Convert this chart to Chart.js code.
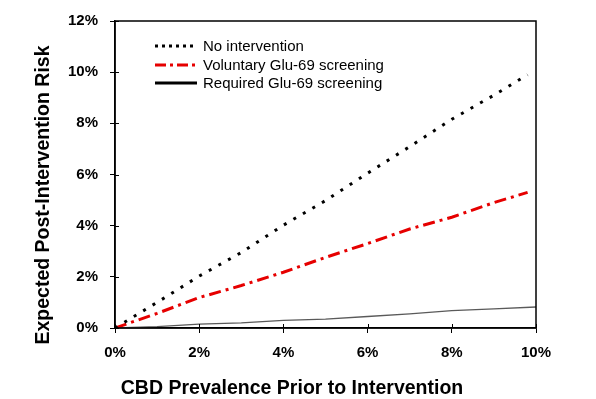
<!DOCTYPE html>
<html>
<head>
<meta charset="utf-8">
<script src="https://cdn.jsdelivr.net/npm/chart.js@4"></script>
<style>
  body { margin: 0; background: #fff; }
  #wrap { width: 596px; height: 399px; }
</style>
</head>
<body>
<div id="wrap"><canvas id="graphContainer"></canvas></div>
<script>
// prevalence (%) on x, expected risk (%) on y
const prevalence = [0, 1, 2, 3, 4, 5, 6, 7, 8, 9, 9.8];
const noIntervention = [0, 1.0, 2.03, 2.95, 4.02, 4.98, 6.05, 7.09, 8.16, 9.1, 9.9];
const voluntary = [0, 0.57, 1.19, 1.66, 2.18, 2.76, 3.3, 3.87, 4.33, 4.9, 5.3];
const prevalenceReq = [0, 1, 2, 3, 4, 5, 6, 7, 8, 9, 10];
const required = [0, 0.05, 0.15, 0.2, 0.3, 0.35, 0.45, 0.55, 0.68, 0.75, 0.82];

const seriesLabels = ["No intervention", "Voluntary Glu-69 screening", "Required Glu-69 screening"];
const xTitle = "CBD Prevalence Prior to Intervention";
const yTitle = "Expected Post-Intervention Risk";

function toPoints(xs, ys) {
  return xs.map((x, i) => ({ x: x, y: ys[i] }));
}

// frame, inner tick halves, legend and axis titles
const extras = {
  id: "extras",
  afterDraw(chart) {
    const ctx = chart.ctx;
    const a = chart.chartArea;
    ctx.save();
    ctx.strokeStyle = "#000";
    ctx.lineWidth = 1.5;
    ctx.strokeRect(a.left, a.top, a.right - a.left, a.bottom - a.top);

    ctx.lineWidth = 1;
    ctx.beginPath();
    chart.scales.x.ticks.forEach(t => {
      const px = Math.round(chart.scales.x.getPixelForValue(t.value)) + 0.5;
      ctx.moveTo(px, a.bottom);
      ctx.lineTo(px, a.bottom - 4);
    });
    chart.scales.y.ticks.forEach(t => {
      const py = Math.round(chart.scales.y.getPixelForValue(t.value)) + 0.5;
      ctx.moveTo(a.left, py);
      ctx.lineTo(a.left + 4, py);
    });
    ctx.stroke();

    // legend
    const legendDash = [[3, 4], [11, 4, 3, 4], []];
    const legendColor = ["#000", "rgb(230,0,0)", "#000"];
    const rows = [46, 65, 83];
    ctx.font = "15px 'Liberation Sans', Arial, sans-serif";
    ctx.textBaseline = "middle";
    ctx.fillStyle = "#000";
    chart.data.datasets.forEach((ds, i) => {
      ctx.beginPath();
      ctx.setLineDash(legendDash[i]);
      ctx.strokeStyle = legendColor[i];
      ctx.lineWidth = 3;
      ctx.moveTo(155, rows[i]);
      ctx.lineTo(197, rows[i]);
      ctx.stroke();
      ctx.fillText(ds.label, 203, rows[i] + 1);
    });
    ctx.setLineDash([]);

    // axis titles
    ctx.font = "bold 19.5px 'Liberation Sans', Arial, sans-serif";
    ctx.textAlign = "center";
    ctx.textBaseline = "alphabetic";
    ctx.fillText(xTitle, 292, 394);
    ctx.translate(49, 195);
    ctx.rotate(-Math.PI / 2);
    ctx.fillText(yTitle, 0, 0);
    ctx.restore();
  }
};

const tickFont = { family: "'Liberation Sans', Arial, sans-serif", size: 15, weight: "bold" };

new Chart(document.getElementById("graphContainer"), {
  type: "line",
  data: {
    datasets: [{
      label: seriesLabels[0],
      data: toPoints(prevalence, noIntervention),
      borderColor: "#000",
      borderWidth: 3,
      borderDash: [3, 8],
      pointRadius: 0,
      fill: false
    }, {
      label: seriesLabels[1],
      data: toPoints(prevalence, voluntary),
      borderColor: "rgb(230,0,0)",
      borderWidth: 3,
      borderDash: [12, 5, 3, 5],
      pointRadius: 0,
      fill: false
    }, {
      label: seriesLabels[2],
      data: toPoints(prevalenceReq, required),
      borderColor: "rgb(90,90,90)",
      borderWidth: 1.3,
      pointRadius: 0,
      fill: false
    }]
  },
  options: {
    responsive: true,
    maintainAspectRatio: false,
    animation: false,
    layout: { padding: { top: 15, right: 60, left: 0, bottom: 0 } },
    plugins: { legend: { display: false }, tooltip: { enabled: false } },
    scales: {
      x: {
        type: "linear",
        position: "bottom",
        min: 0,
        max: 10,
        afterFit: s => { s.height = 71; },
        ticks: { stepSize: 2, color: "#000", font: tickFont, padding: 11, maxRotation: 0, callback: v => v + "%" },
        grid: { drawOnChartArea: false, drawTicks: true, tickLength: 5, color: "#000" },
        border: { display: true, color: "#000", width: 1.5 }
      },
      y: {
        min: 0,
        max: 12,
        afterFit: s => { s.width = 115; },
        ticks: { stepSize: 2, color: "#000", font: tickFont, padding: 12, callback: v => v + "%" },
        grid: { drawOnChartArea: false, drawTicks: true, tickLength: 5, color: "#000" },
        border: { display: true, color: "#000", width: 1.5 }
      }
    }
  },
  plugins: [extras]
});
</script>
</body>
</html>
